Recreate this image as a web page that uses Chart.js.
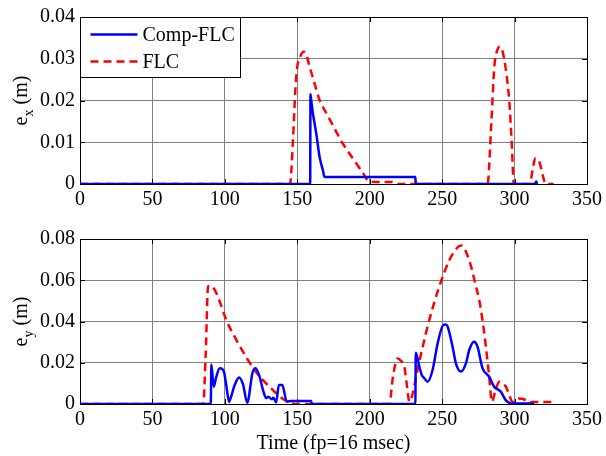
<!DOCTYPE html>
<html>
<head>
<meta charset="utf-8">
<script src="https://cdn.jsdelivr.net/npm/chart.js@4/dist/chart.umd.min.js"></script>
<style>
html,body{margin:0;padding:0;background:#fff;}
#wrap{position:relative;width:606px;height:456px;}
canvas{position:absolute;left:0;}
</style>
</head>
<body>
<div id="wrap">
<canvas id="c1" width="606" height="215" style="top:0"></canvas>
<canvas id="c2" width="606" height="241" style="top:215px"></canvas>
</div>
<script>
// ---- data ----
const seriesNames = ['Comp-FLC', 'FLC'];
const xTicks = [0, 50, 100, 150, 200, 250, 300, 350];
const exTicks = [0, 0.01, 0.02, 0.03, 0.04];
const eyTicks = [0, 0.02, 0.04, 0.06, 0.08];

// e_x, FLC (red dashed)
const exFlcT = [0, 145, 147, 148.8, 150, 152, 154.3, 156, 158.5, 162, 165.4, 170, 174.5, 178, 181.4, 186, 190.6, 195, 199.8, 205, 215, 220.5, 281.3, 284, 286, 288, 289.8, 291, 292.8, 294.5, 296.3, 298, 299.5, 310.5, 312.5, 314.2, 316, 317.4, 319.5, 321.5, 327];
const exFlcV = [0, 0, 0.0105, 0.0233, 0.0281, 0.0305, 0.0317, 0.0312, 0.0281, 0.024, 0.0201, 0.017, 0.0141, 0.0118, 0.0097, 0.0073, 0.005, 0.0028, 0.0006, 0.0005, 0.0005, 0, 0, 0.015, 0.028, 0.032, 0.0329, 0.0326, 0.030, 0.026, 0.0201, 0.01, 0, 0, 0.0035, 0.0061, 0.006, 0.005, 0.002, 0, 0];
// e_x, Comp-FLC (blue solid)
const exCompT = [0, 158.9, 159.1, 159.6, 160.8, 163.1, 165.4, 167.6, 168.8, 231.5, 231.8, 314, 315, 315.6];
const exCompV = [0, 0, 0.0215, 0.0201, 0.0169, 0.0121, 0.0065, 0.0034, 0.0017, 0.0017, 0, 0, 0.0006, 0];

// e_y, FLC (red dashed)
const eyFlcT = [0, 85, 86.8, 88.4, 90, 93, 96.5, 101, 108, 116, 121, 126.3, 131, 135.5, 140, 144.7, 150, 213.6, 216, 219.3, 221.5, 223.9, 225.5, 227.4, 230, 232, 236.6, 241.1, 248, 255, 259, 261.9, 263.5, 265.3, 267.5, 270, 273, 275.6, 278, 280.2, 282.5, 284.3, 287, 289.4, 292, 294, 296.5, 298.5, 301, 303.2, 306, 310, 326];
const eyFlcV = [0, 0, 0.0246, 0.0569, 0.0574, 0.0553, 0.0496, 0.0407, 0.031, 0.0213, 0.016, 0.0116, 0.0082, 0.0052, 0.0025, 0.0006, 0, 0, 0.013, 0.0221, 0.021, 0.018, 0.01, 0.0011, 0.006, 0.0132, 0.0278, 0.0407, 0.0569, 0.0698, 0.0745, 0.0766, 0.0768, 0.0755, 0.072, 0.0666, 0.058, 0.0504, 0.04, 0.0278, 0.013, 0.0011, 0.007, 0.0108, 0.0098, 0.0084, 0.004, 0.001, 0.0024, 0.0027, 0.0024, 0.001, 0.001];
// e_y, Comp-FLC (blue solid)
const eyCompT = [0, 90.3, 90.7, 92.3, 94, 96.5, 99.2, 101, 102.9, 104.5, 106.8, 109.8, 112.5, 115.5, 119, 121.2, 124, 126.3, 128.6, 130, 132.4, 133.5, 135.4, 137.3, 139.6, 142.8, 145.8, 159.6, 160, 231.5, 231.8, 234.3, 236, 237.7, 240, 243.4, 246.9, 250.8, 252.5, 253.8, 257.2, 259.5, 263, 266.4, 268.7, 272.1, 274.4, 277.9, 282.5, 285.9, 290.5, 294, 298.5, 313.5];
const eyCompV = [0, 0, 0.0192, 0.0084, 0.013, 0.0173, 0.016, 0.009, 0.0011, 0.004, 0.0092, 0.0129, 0.0096, 0.0006, 0.0149, 0.0173, 0.0132, 0.0068, 0.0028, 0.0035, 0.0023, 0.003, 0.0008, 0.0092, 0.0092, 0.0011, 0.0015, 0.0015, 0, 0, 0.0249, 0.018, 0.014, 0.0125, 0.0108, 0.0165, 0.0294, 0.0383, 0.0385, 0.0375, 0.0278, 0.0197, 0.0157, 0.0197, 0.0262, 0.0302, 0.0278, 0.0173, 0.0132, 0.0084, 0.006, 0.0018, 0.0003, 0.0003];

// ---- helpers ----
const FONT = 'Liberation Serif, Times New Roman, serif';
function pts(t, v) { return t.map((x, i) => ({x: x, y: v[i]})); }

const boxPlugin = {
  id: 'box',
  beforeDatasetsDraw(chart) {
    const {ctx, chartArea: a, scales} = chart;
    ctx.save();
    ctx.strokeStyle = '#000';
    ctx.lineWidth = 1;
    ctx.beginPath();
    const tl = 5;
    scales.x.ticks.forEach(t => {
      const px = Math.round(scales.x.getPixelForValue(t.value)) + 0.5;
      ctx.moveTo(px, a.bottom); ctx.lineTo(px, a.bottom - tl);
      ctx.moveTo(px, a.top); ctx.lineTo(px, a.top + tl);
    });
    scales.y.ticks.forEach(t => {
      const py = Math.round(scales.y.getPixelForValue(t.value)) + 0.5;
      ctx.moveTo(a.left, py); ctx.lineTo(a.left + tl, py);
      ctx.moveTo(a.right, py); ctx.lineTo(a.right - tl, py);
    });
    ctx.stroke();
    ctx.strokeRect(Math.round(a.left) + 0.5, Math.round(a.top) + 0.5, Math.round(a.right - a.left), Math.round(a.bottom - a.top));
    ctx.restore();
  }
};

const yLabelPlugin = {
  id: 'ylabel',
  afterDraw(chart, args, opts) {
    const {ctx, chartArea: a} = chart;
    ctx.save();
    const cy = (a.top + a.bottom) / 2;
    ctx.translate(opts.x, cy);
    ctx.rotate(-Math.PI / 2);
    ctx.fillStyle = '#000';
    ctx.textBaseline = 'alphabetic';
    const big = '20px ' + FONT, small = '14px ' + FONT;
    ctx.font = big; const w1 = ctx.measureText('e').width;
    ctx.font = small; const w2 = ctx.measureText(opts.sub).width;
    ctx.font = big; const w3 = ctx.measureText(' (m)').width;
    let x = -(w1 + w2 + w3) / 2;
    ctx.font = big; ctx.fillText('e', x, 0); x += w1;
    ctx.font = small; ctx.fillText(opts.sub, x, 6); x += w2;
    ctx.font = big; ctx.fillText(' (m)', x, 0);
    ctx.restore();
  }
};

const legendPlugin = {
  id: 'mylegend',
  afterDraw(chart, args, opts) {
    if (!opts.show) return;
    const {ctx, chartArea: a} = chart;
    ctx.save();
    const L = Math.round(a.left) + 0.5, T = Math.round(a.top) + 0.5;
    ctx.fillStyle = '#fff';
    ctx.fillRect(L, T, 160, 60);
    ctx.strokeStyle = '#000'; ctx.lineWidth = 1;
    ctx.strokeRect(L, T, 160, 60);
    ctx.font = '20px ' + FONT;
    ctx.textBaseline = 'middle';
    chart.data.datasets.forEach((ds, i) => {
      const y = T + 17 + i * 27;
      ctx.strokeStyle = ds.borderColor; ctx.lineWidth = ds.borderWidth;
      ctx.setLineDash(ds.borderDash || []);
      ctx.beginPath(); ctx.moveTo(L + 10, y); ctx.lineTo(L + 57, y); ctx.stroke();
      ctx.setLineDash([]);
      ctx.fillStyle = '#000';
      ctx.fillText(ds.label, L + 62, y + 1);
    });
    ctx.restore();
  }
};

function makeChart(id, compT, compV, flcT, flcV, yTicks, yMax, sub, showLegend, showTitle, padTop, xHeight) {
  return new Chart(document.getElementById(id), {
    type: 'line',
    data: {
      datasets: [
        {label: seriesNames[0], data: pts(compT, compV), borderColor: '#0000ff', borderWidth: 2.5, pointRadius: 0, cubicInterpolationMode: 'monotone', fill: false},
        {label: seriesNames[1], data: pts(flcT, flcV), borderColor: '#ff0000', borderWidth: 2.5, borderDash: [8, 5], pointRadius: 0, cubicInterpolationMode: 'monotone', fill: false}
      ]
    },
    options: {
      responsive: false,
      animation: false,
      devicePixelRatio: 1,
      layout: {padding: {left: 0, right: 18, top: padTop, bottom: 0}},
      plugins: {
        legend: {display: false},
        tooltip: {enabled: false},
        ylabel: {x: 27, sub: sub},
        mylegend: {show: showLegend}
      },
      scales: {
        x: {
          type: 'linear', min: 0, max: 350,
          afterBuildTicks: s => { s.ticks = xTicks.map(v => ({value: v})); },
          afterFit: s => { s.height = xHeight; },
          ticks: {color: '#000', font: {family: FONT, size: 20}, padding: 4, maxRotation: 0, autoSkip: false},
          grid: {color: '#808080', lineWidth: 1, drawTicks: false},
          border: {display: false},
          title: {display: showTitle, text: 'Time (fp=16 msec)', color: '#000', font: {family: FONT, size: 20}, padding: {top: 0, bottom: 0}}
        },
        y: {
          type: 'linear', min: 0, max: yMax,
          afterBuildTicks: s => { s.ticks = yTicks.map(v => ({value: v})); },
          afterFit: s => { s.width = 80; },
          ticks: {color: '#000', font: {family: FONT, size: 20}, padding: 5, callback: v => v === 0 ? '0' : v.toFixed(2)},
          grid: {color: '#808080', lineWidth: 1, drawTicks: false},
          border: {display: false}
        }
      }
    },
    plugins: [boxPlugin, yLabelPlugin, legendPlugin]
  });
}

makeChart('c1', exCompT, exCompV, exFlcT, exFlcV, exTicks, 0.04, 'x', true, false, 17, 31);
makeChart('c2', eyCompT, eyCompV, eyFlcT, eyFlcV, eyTicks, 0.08, 'y', false, true, 24, 52);
</script>
</body>
</html>
